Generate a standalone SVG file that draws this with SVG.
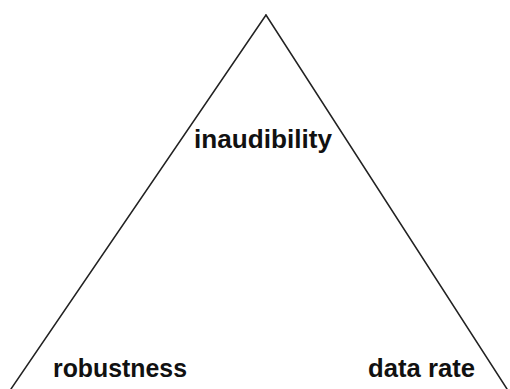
<svg xmlns="http://www.w3.org/2000/svg" width="510" height="389" viewBox="0 0 510 389">
<style>
.edge{stroke:#222;stroke-width:1.5;fill:none;stroke-linecap:round}
.lbl{font-family:"Liberation Sans",Arial,sans-serif;font-weight:bold;font-size:25px;fill:#111}
</style>
<rect width="510" height="389" fill="#fff"/>
<g id="connectors">
<path class="edge" d="M266,15 L11,389"/>
<path class="edge" d="M266,15 L507,389"/>
</g>
<g id="node-inaudibility"><text class="lbl" x="194" y="148" textLength="138" lengthAdjust="spacingAndGlyphs">inaudibility</text></g>
<g id="node-robustness"><text class="lbl" x="53" y="377" textLength="134" lengthAdjust="spacingAndGlyphs">robustness</text></g>
<g id="node-datarate"><text class="lbl" x="368" y="377" textLength="107" lengthAdjust="spacingAndGlyphs">data rate</text></g>
</svg>
